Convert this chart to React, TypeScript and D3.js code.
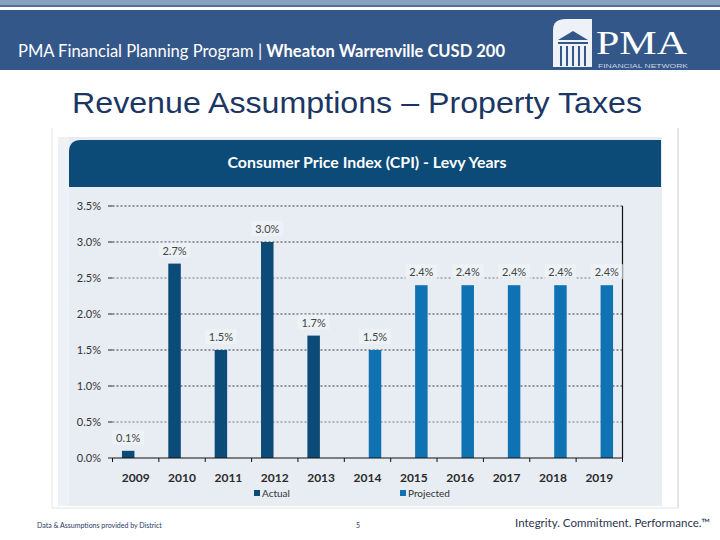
import React from "react";
import * as d3 from "d3";

const years = ["2009", "2010", "2011", "2012", "2013", "2014", "2015", "2016", "2017", "2018", "2019"];
const seriesNames = ["Actual", "Projected"];
const actualValues: (number | null)[] = [0.1, 2.7, 1.5, 3.0, 1.7, null, null, null, null, null, null];
const projectedValues: (number | null)[] = [null, null, null, null, null, 1.5, 2.4, 2.4, 2.4, 2.4, 2.4];
const yTicks = [0, 0.5, 1.0, 1.5, 2.0, 2.5, 3.0, 3.5];

const W = 720;
const H = 540;
const ACTUAL = "#0c4a78";
const PROJ = "#0f73b3";
const FONT = "Lato, 'Open Sans', sans-serif";

export default function App() {
  const x = d3.scaleBand<string>().domain(years).range([112.5, 622.5]).padding(0);
  const bw = x.bandwidth();
  const xs = d3
    .scaleBand<string>()
    .domain(seriesNames)
    .range([bw / 2 - 13.75, bw / 2 + 13.75])
    .paddingInner(1 / 6);
  const y = d3.scaleLinear().domain([0, 3.5]).range([458, 206]);
  const fmt = (v: number) => d3.format(".1f")(v) + "%";

  const series = [
    { name: "Actual", values: actualValues, color: ACTUAL },
    { name: "Projected", values: projectedValues, color: PROJ },
  ];

  const boundaries = years.map((yr) => x(yr)!).concat([622.5]);
  const titleBarPath = `M69,187 L69,152 Q69,140 81,140 L661,140 L661,187 Z`;

  return (
    <svg width={W} height={H} style={{ position: "absolute", left: 0, top: 0 }}>
      <rect x={0} y={0} width={W} height={H} fill="#ffffff" />
      {/* header */}
      <rect x={0} y={0} width={W} height={5} fill="#8aa2c2" />
      <rect x={0} y={5} width={W} height={2} fill="#4f6f9c" />
      <rect x={0} y={10} width={W} height={60} fill="#34578a" />
      <text
        x={18}
        y={57}
        fill="#ffffff"
        fontFamily={FONT}
        fontSize={16.5}
        textLength={487}
        lengthAdjust="spacingAndGlyphs"
      >
        PMA Financial Planning Program |{" "}
        <tspan fontWeight="bold">Wheaton Warrenville CUSD 200</tspan>
      </text>
      {/* logo */}
      <g>
        <path d="M553,67 L553,30 Q553,19 566,19 L592,19 L592,67 Z" fill="#eef2f8" />
        <path d="M558,40 L573,31 L588,40 Z" fill="#34578a" />
        <rect x={558} y={42} width={30} height={2} fill="#34578a" />
        {[0, 1, 2, 3, 4].map((i) => (
          <rect key={i} x={560 + i * 6} y={46} width={2} height={20} fill="#34578a" />
        ))}
        <text
          x={596}
          y={54}
          fill="#ffffff"
          fontFamily="'Liberation Serif', 'DejaVu Serif', serif"
          fontSize={33}
          textLength={91}
          lengthAdjust="spacingAndGlyphs"
        >
          PMA
        </text>
        <text
          x={598}
          y={68}
          fill="#c9d4e4"
          fontFamily="'Liberation Sans', sans-serif"
          fontSize={6}
          textLength={90}
          lengthAdjust="spacingAndGlyphs"
        >
          FINANCIAL NETWORK
        </text>
      </g>
      {/* main title */}
      <text
        x={357}
        y={113}
        textAnchor="middle"
        fill="#1b3664"
        fontFamily="'Liberation Sans', Arial, sans-serif"
        fontSize={30}
        textLength={570}
        lengthAdjust="spacingAndGlyphs"
      >
        Revenue Assumptions – Property Taxes
      </text>

      {/* chart card */}
      <line x1={52} y1={128} x2={52} y2={508} stroke="#e3e6ea" />
      <line x1={678} y1={128} x2={678} y2={508} stroke="#c9cbcf" />
      <line x1={52} y1={508} x2={678} y2={508} stroke="#dfe2e6" />
      <rect x={58} y={137} width={604} height={369} fill="#e8edf4" />
      <rect x={58} y={137} width={11} height={369} fill="#eef1f6" />
      <path d={titleBarPath} fill={ACTUAL} />
      <text
        x={367}
        y={168}
        textAnchor="middle"
        fill="#ffffff"
        fontFamily={FONT}
        fontWeight="bold"
        fontSize={16}
        textLength={279}
        lengthAdjust="spacingAndGlyphs"
      >
        Consumer Price Index (CPI) - Levy Years
      </text>

      {/* grid */}
      {yTicks.map((t) => (
        <g key={t}>
          {t > 0 && (
            <line
              x1={112.5}
              x2={622.5}
              y1={y(t)}
              y2={y(t)}
              stroke="#1a1a1a"
              strokeWidth={1}
              strokeDasharray="2,2"
              opacity={t === 2.5 || t === 0.5 ? 0.55 : 0.85}
            />
          )}
          <line x1={108} x2={112.5} y1={y(t)} y2={y(t)} stroke="#222" />
          <text
            x={101}
            y={y(t) + 4}
            textAnchor="end"
            fill="#333"
            fontFamily={FONT}
            fontSize={11}
          >
            {fmt(t)}
          </text>
        </g>
      ))}
      <line x1={622.5} x2={622.5} y1={y(3.5)} y2={y(0)} stroke="#111" strokeWidth={1.2} />

      {/* bars */}
      {series.map((s) =>
        s.values.map((v, i) => {
          if (v === null) return null;
          const bx = x(years[i])! + xs(s.name)!;
          const cx = bx + xs.bandwidth() / 2;
          const top = y(v);
          return (
            <g key={s.name + i}>
              <rect x={bx} y={top} width={xs.bandwidth()} height={y(0) - top} fill={s.color} />
              <rect x={cx - 16} y={top - 21} width={32} height={15} fill="#eef2f7" opacity={0.8} />
              <text
                x={cx}
                y={top - 9}
                textAnchor="middle"
                fill="#444"
                fontFamily={FONT}
                fontSize={11}
              >
                {fmt(v)}
              </text>
            </g>
          );
        })
      )}

      {/* x axis */}
      <line x1={112.5} x2={622.5} y1={y(0)} y2={y(0)} stroke="#111" strokeWidth={1.2} />
      {boundaries.map((b, i) => (
        <line key={i} x1={b} x2={b} y1={y(0)} y2={y(0) + 4} stroke="#111" />
      ))}
      {years.map((yr) => (
        <text
          key={yr}
          x={x(yr)! + bw / 2}
          y={482}
          textAnchor="middle"
          fill="#2b2b2b"
          fontFamily={FONT}
          fontWeight="bold"
          fontSize={12}
        >
          {yr}
        </text>
      ))}

      {/* legend */}
      <rect x={254} y={490} width={6} height={6} fill={ACTUAL} />
      <text x={262} y={497} fill="#333" fontFamily={FONT} fontSize={10}>
        Actual
      </text>
      <rect x={400} y={490} width={6} height={6} fill={PROJ} />
      <text x={408} y={497} fill="#333" fontFamily={FONT} fontSize={10}>
        Projected
      </text>

      {/* footer */}
      <text x={37} y={528} fill="#1f3864" fontFamily={FONT} fontSize={7}>
        Data &amp; Assumptions provided by District
      </text>
      <text x={356} y={528} fill="#1f3864" fontFamily={FONT} fontSize={7}>
        5
      </text>
      <text x={515} y={527} fill="#2a3550" fontFamily={FONT} fontSize={11.5}>
        Integrity. Commitment. Performance.™
      </text>
    </svg>
  );
}
